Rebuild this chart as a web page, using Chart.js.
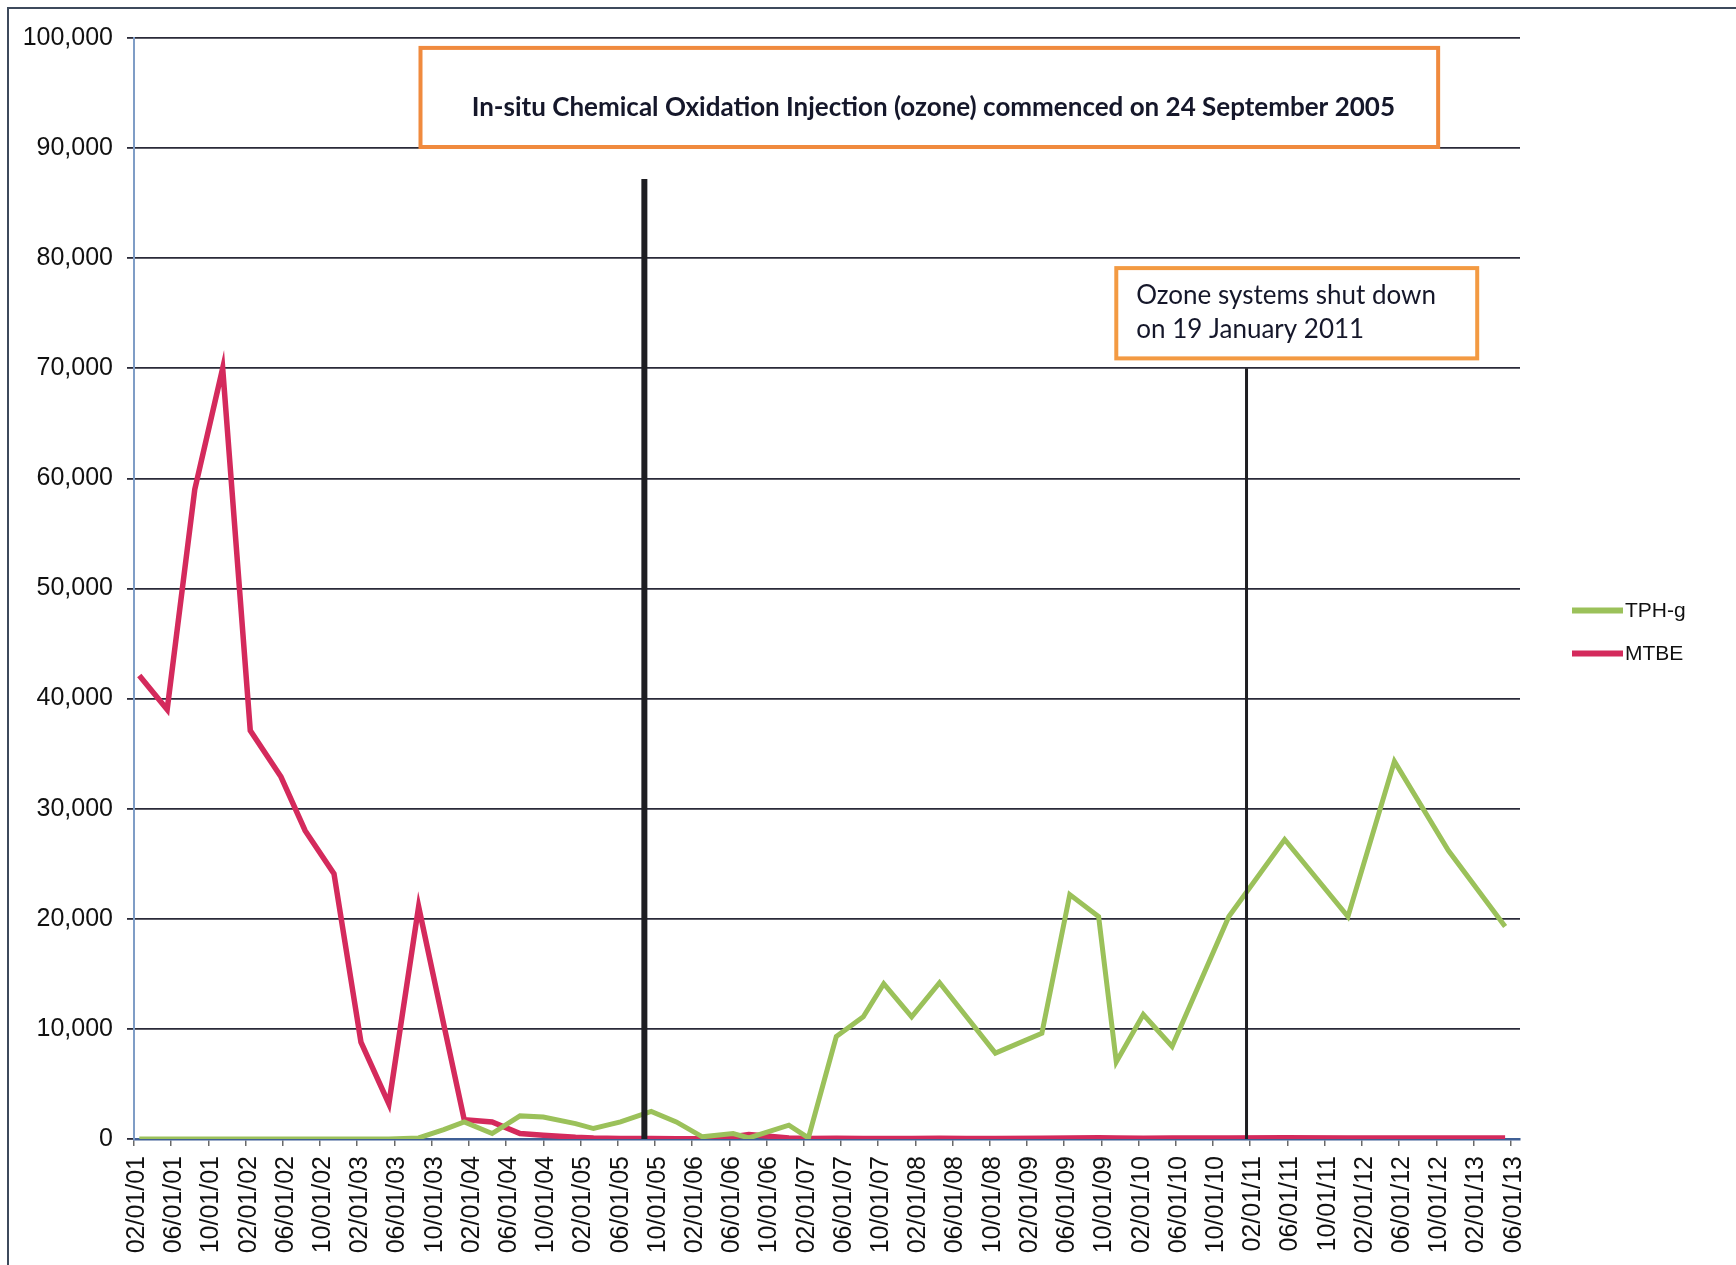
<!DOCTYPE html>
<html>
<head>
<meta charset="utf-8">
<script src="https://cdn.jsdelivr.net/npm/chart.js@4.4.1/dist/chart.umd.min.js"></script>
<style>
  html, body { margin: 0; padding: 0; background: #fff; }
  #wrap { width: 1736px; height: 1265px; }
</style>
</head>
<body>
<div id="wrap"><canvas id="myChart" width="1736" height="1265"></canvas></div>
<script>
// sampling dates
const SAMPLE_DATES = [
  '2001-02-18', '2001-05-18', '2001-08-17', '2001-11-17', '2002-02-16', '2002-05-25',
  '2002-08-13', '2002-11-16', '2003-02-13', '2003-05-13', '2003-08-19', '2003-11-10',
  '2004-01-16', '2004-04-16', '2004-07-16', '2004-10-01', '2005-01-15', '2005-03-13',
  '2005-06-10', '2005-09-19', '2005-12-10', '2006-03-04', '2006-06-13', '2006-08-04',
  '2006-12-13', '2007-02-16', '2007-05-16', '2007-08-13', '2007-10-19', '2008-01-19',
  '2008-04-19', '2008-07-16', '2008-10-19', '2009-03-19', '2009-06-19', '2009-09-22',
  '2009-11-19', '2010-02-16', '2010-05-19', '2010-11-22', '2011-05-22', '2011-12-16',
  '2012-05-16', '2012-11-10', '2013-05-13',
];

const TPHG = [
  0, 0, 0, 0, 0, 0, 0, 0, 0, 0, 100, 850,
  1550, 500, 2100, 2000, 1400, 950, 1550, 2500, 1550, 200, 500, 100,
  1250, 100, 9300, 11100, 14100, 11100, 14200, 11100, 7800, 9600, 22200, 20200,
  7000, 11300, 8400, 20200, 27200, 20200, 34300, 26200, 19300,
];

const MTBE = [
  42100, 39000, 59000, 70000, 37100, 32900, 28000, 24100, 8800, 3200, 21100, 10400,
  1750, 1550, 500, 350, 150, 80, 50, 50, 30, 20, 200, 400,
  100, 50, 60, 50, 40, 50, 60, 50, 40, 60, 80, 120,
  90, 70, 80, 100, 110, 90, 100, 80, 90,
];

const TICK_LABELS = [
  '02/01/01', '06/01/01', '10/01/01', '02/01/02', '06/01/02', '10/01/02',
  '02/01/03', '06/01/03', '10/01/03', '02/01/04', '06/01/04', '10/01/04',
  '02/01/05', '06/01/05', '10/01/05', '02/01/06', '06/01/06', '10/01/06',
  '02/01/07', '06/01/07', '10/01/07', '02/01/08', '06/01/08', '10/01/08',
  '02/01/09', '06/01/09', '10/01/09', '02/01/10', '06/01/10', '10/01/10',
  '02/01/11', '06/01/11', '10/01/11', '02/01/12', '06/01/12', '10/01/12',
  '02/01/13', '06/01/13',
];

const INJECTION_DATE = '2005-08-27';
const SHUTDOWN_DATE = '2011-01-19';
const INJECTION_NOTE = 'In-situ Chemical Oxidation Injection (ozone) commenced on 24 September 2005';
const SHUTDOWN_NOTE = ['Ozone systems shut down', 'on 19 January 2011'];

const AXIS_FONT = 'Liberation Sans, Arial, sans-serif';
const GREEN = '#9BC15A';
const RED = '#D42A5C';

// months since 1 Feb 2001
function toMonths(str) {
  const [y, m, d] = str.split('-').map(Number);
  return (y - 2001) * 12 + (m - 2) + (d - 1) / 30;
}

const overlays = {
  id: 'overlays',
  afterDatasetsDraw(chart) {
    const { ctx, chartArea } = chart;
    const x = chart.scales.x;
    const y = chart.scales.y;
    ctx.save();

    // event lines
    ctx.strokeStyle = '#1e1e22';
    ctx.lineCap = 'butt';
    ctx.lineWidth = 6;
    let px = x.getPixelForValue(toMonths(INJECTION_DATE));
    ctx.beginPath();
    ctx.moveTo(px, y.getPixelForValue(87200));
    ctx.lineTo(px, y.getPixelForValue(0));
    ctx.stroke();

    ctx.lineWidth = 3;
    px = x.getPixelForValue(toMonths(SHUTDOWN_DATE));
    ctx.beginPath();
    ctx.moveTo(px, y.getPixelForValue(70000));
    ctx.lineTo(px, y.getPixelForValue(0));
    ctx.stroke();

    // note boxes
    const box = (x0, x1, y0, y1, color) => {
      const l = x.getPixelForValue(x0), r = x.getPixelForValue(x1);
      const t = y.getPixelForValue(y0), b = y.getPixelForValue(y1);
      ctx.fillStyle = '#fff';
      ctx.fillRect(l, t, r - l, b - t);
      ctx.strokeStyle = color;
      ctx.lineWidth = 4;
      ctx.strokeRect(l, t, r - l, b - t);
      return { l, r, t, b };
    };

    const b1 = box(30.8, 140.2, 99100, 90100, '#F08A3E');
    ctx.fillStyle = '#15172a';
    ctx.font = 'bold 26px Lato, sans-serif';
    ctx.textAlign = 'center';
    ctx.textBaseline = 'middle';
    ctx.fillText(INJECTION_NOTE, (b1.l + b1.r) / 2 + 4, b1.t + 60);

    const b2 = box(105.6, 144.4, 79100, 70900, '#F39A42');
    ctx.fillStyle = '#15172a';
    ctx.font = '26px Lato, sans-serif';
    ctx.textAlign = 'left';
    SHUTDOWN_NOTE.forEach((line, i) => {
      ctx.fillText(line, b2.l + 20, b2.t + 28 + i * 34);
    });

    // legend
    const midY = chart.height / 2;
    chart.data.datasets.forEach((ds, i) => {
      const ly = midY - 22 + i * 43;
      const lx = chartArea.right + 52;
      ctx.strokeStyle = ds.borderColor;
      ctx.lineWidth = 6;
      ctx.beginPath();
      ctx.moveTo(lx, ly);
      ctx.lineTo(lx + 51, ly);
      ctx.stroke();
      ctx.fillStyle = '#111';
      ctx.font = '21px ' + AXIS_FONT;
      ctx.textAlign = 'left';
      ctx.fillText(ds.label, lx + 53, ly + 1);
    });

    // outer frame
    ctx.strokeStyle = '#3d4a5c';
    ctx.lineWidth = 2;
    ctx.beginPath();
    ctx.moveTo(8, chart.height);
    ctx.lineTo(8, 8);
    ctx.lineTo(chart.width, 8);
    ctx.stroke();

    ctx.restore();
  },
};

const ctx = document.getElementById('myChart');

const myChart = new Chart(ctx, {
  type: 'line',
  data: {
    datasets: [
      {
        label: 'TPH-g',
        data: SAMPLE_DATES.map((d, i) => ({ x: toMonths(d), y: TPHG[i] })),
        borderColor: GREEN,
        borderWidth: 5,
        pointRadius: 0,
        tension: 0,
      },
      {
        label: 'MTBE',
        data: SAMPLE_DATES.map((d, i) => ({ x: toMonths(d), y: MTBE[i] })),
        borderColor: RED,
        borderWidth: 5.5,
        pointRadius: 0,
        tension: 0,
      },
    ],
  },
  options: {
    responsive: false,
    animation: false,
    layout: {
      padding: { left: 0, top: 38, right: 216, bottom: 0 },
    },
    plugins: {
      legend: { display: false },
      tooltip: { enabled: false },
    },
    scales: {
      x: {
        type: 'linear',
        min: 0,
        max: (TICK_LABELS.length - 1) * 4 + 1,
        afterBuildTicks: (s) => {
          s.ticks = TICK_LABELS.map((_, i) => ({ value: i * 4 }));
        },
        afterFit: (s) => { s.height = 126; },
        ticks: {
          autoSkip: false,
          maxRotation: 90,
          minRotation: 90,
          padding: 10,
          labelOffset: 3,
          color: '#111',
          font: { family: AXIS_FONT, size: 25 },
          callback: (v, i) => TICK_LABELS[i],
        },
        grid: {
          drawOnChartArea: false,
          drawTicks: true,
          tickLength: 7,
          color: '#6a6a6a',
          lineWidth: 1.5,
        },
        border: { color: '#3f5f95', width: 2.5 },
      },
      y: {
        min: 0,
        max: 100000,
        afterFit: (s) => { s.width = 134; },
        ticks: {
          stepSize: 10000,
          padding: 14,
          color: '#111',
          font: { family: AXIS_FONT, size: 25 },
          callback: (v) => v.toLocaleString('en-US'),
        },
        grid: { color: '#2a2a38', lineWidth: 1.8, tickLength: 7 },
        border: { color: '#7f9dc6', width: 2 },
      },
    },
  },
  plugins: [overlays],
});
</script>
</body>
</html>
